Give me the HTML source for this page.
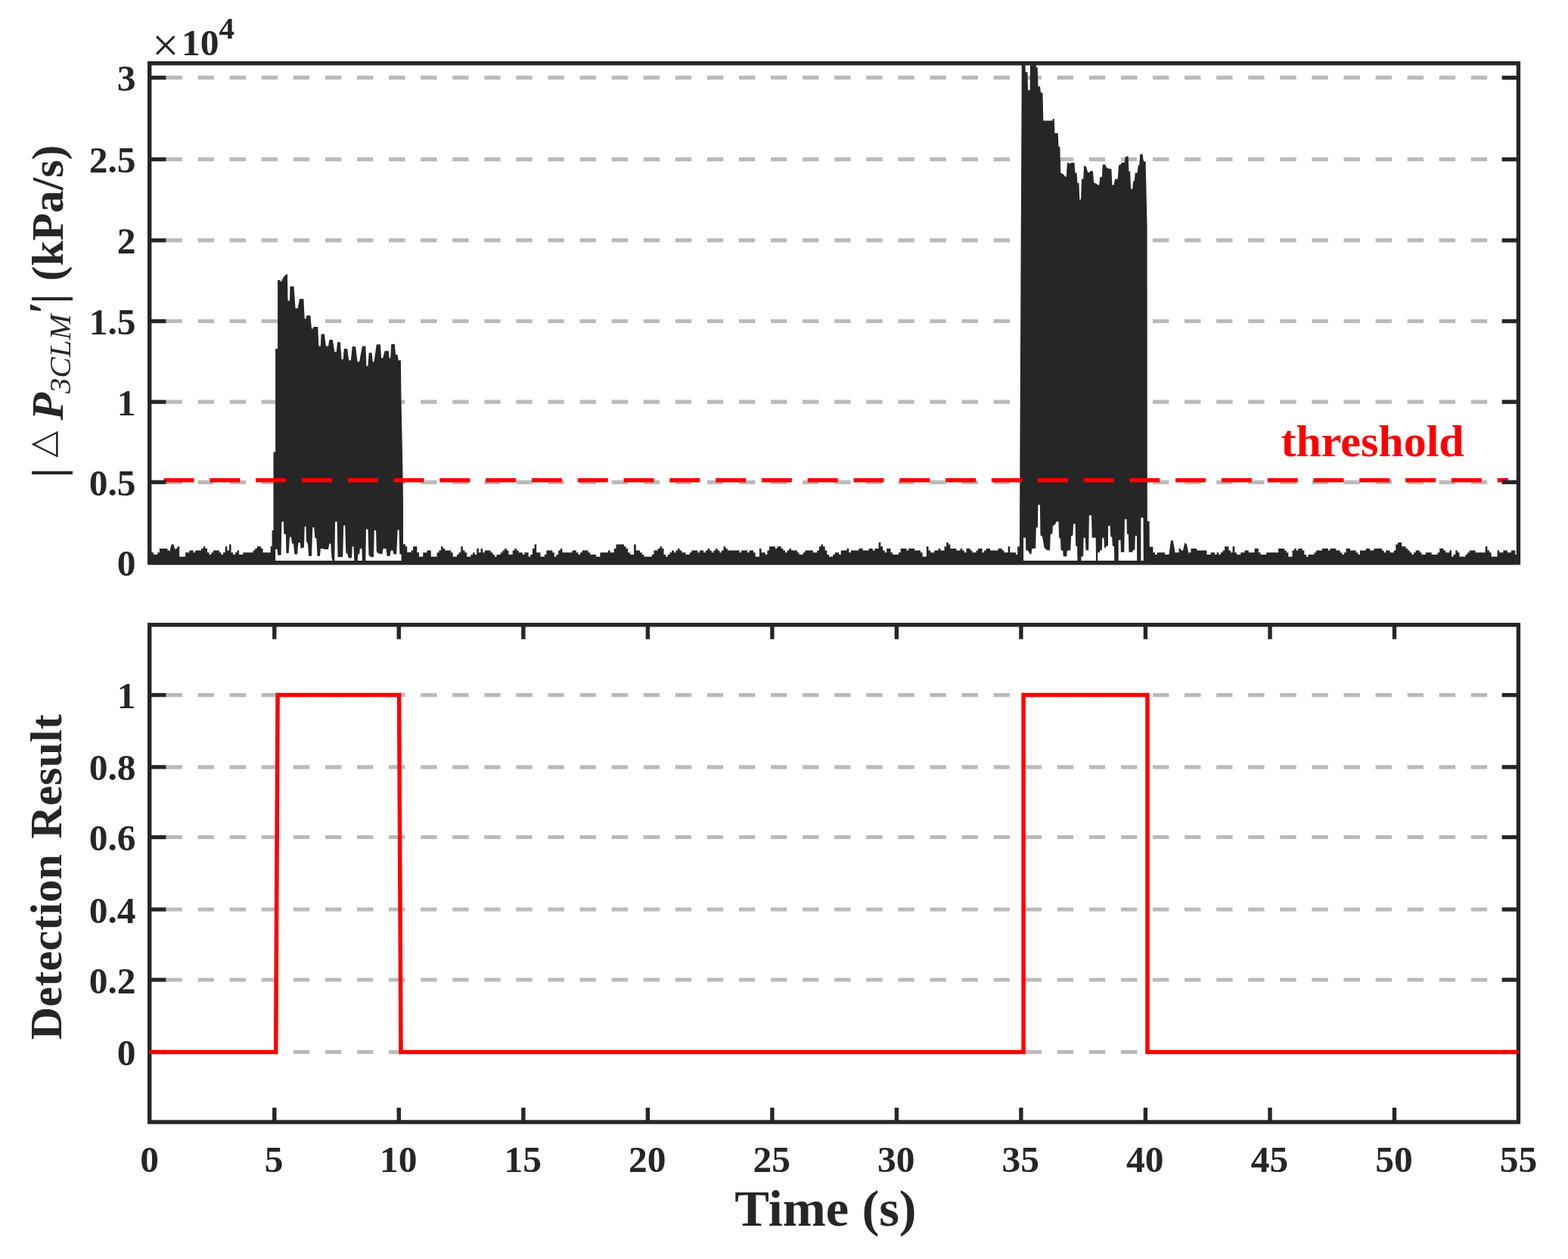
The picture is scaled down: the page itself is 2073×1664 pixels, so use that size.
<!DOCTYPE html>
<html lang="en">
<head>
<meta charset="utf-8">
<title>Detection result</title>
<style>
html,body{margin:0;padding:0;background:#ffffff;overflow:hidden;}
body{width:2073px;height:1664px;overflow:hidden;}
svg{display:block;}
</style>
</head>
<body>
<svg width="2073" height="1664" viewBox="0 0 2073 1664">
<rect x="0" y="0" width="2073" height="1664" fill="#ffffff"/>
<g id="top-plot">
<line x1="197.7" y1="637.3" x2="2007.4" y2="637.3" stroke="#bababa" stroke-width="5.2" stroke-dasharray="21.4 20.68" stroke-dashoffset="20.28"/>
<line x1="197.7" y1="531.2" x2="2007.4" y2="531.2" stroke="#bababa" stroke-width="5.2" stroke-dasharray="21.4 20.68" stroke-dashoffset="20.28"/>
<line x1="197.7" y1="424.5" x2="2007.4" y2="424.5" stroke="#bababa" stroke-width="5.2" stroke-dasharray="21.4 20.68" stroke-dashoffset="20.28"/>
<line x1="197.7" y1="317.7" x2="2007.4" y2="317.7" stroke="#bababa" stroke-width="5.2" stroke-dasharray="21.4 20.68" stroke-dashoffset="20.28"/>
<line x1="197.7" y1="210.6" x2="2007.4" y2="210.6" stroke="#bababa" stroke-width="5.2" stroke-dasharray="21.4 20.68" stroke-dashoffset="20.28"/>
<line x1="197.7" y1="102.7" x2="2007.4" y2="102.7" stroke="#bababa" stroke-width="5.2" stroke-dasharray="21.4 20.68" stroke-dashoffset="20.28"/>
<clipPath id="ctop"><rect x="195.0" y="81.0" width="1815.1000000000001" height="665.4999999999999"/></clipPath>
<g clip-path="url(#ctop)">
<path d="M197.7,746.5 L197.7,727.6 L200.3,727.6 L200.3,730.3 L203.0,730.3 L203.0,733.0 L205.6,733.0 L205.6,733.0 L208.2,733.0 L208.2,730.3 L210.9,730.3 L210.9,725.0 L213.5,725.0 L213.5,725.0 L216.1,725.0 L216.1,725.0 L218.7,725.0 L218.7,725.0 L221.4,725.0 L221.4,727.6 L224.0,727.6 L224.0,730.3 L226.6,719.5 L226.6,719.5 L229.3,719.5 L229.3,719.5 L231.9,727.6 L231.9,725.0 L234.5,725.0 L234.5,722.3 L237.2,722.3 L237.2,735.7 L239.8,735.7 L239.8,735.7 L242.4,735.7 L242.4,735.7 L245.1,735.7 L245.1,730.3 L247.7,730.3 L247.7,730.3 L250.3,730.3 L250.3,727.6 L252.9,727.6 L252.9,727.6 L255.6,727.6 L255.6,730.3 L258.2,730.3 L258.2,727.6 L260.8,727.6 L260.8,727.6 L263.5,727.6 L263.5,727.6 L266.1,727.6 L266.1,725.0 L268.7,725.0 L268.7,722.3 L271.4,722.3 L271.4,725.0 L274.0,725.0 L274.0,730.3 L276.6,730.3 L276.6,733.0 L279.3,733.0 L279.3,730.3 L281.9,730.3 L281.9,727.6 L284.5,727.6 L284.5,727.6 L287.1,727.6 L287.1,727.6 L289.8,727.6 L289.8,730.3 L292.4,730.3 L292.4,733.0 L295.0,733.0 L295.0,730.3 L297.7,730.3 L297.7,722.3 L300.3,722.3 L300.3,727.6 L302.9,727.6 L302.9,719.6 L305.6,719.6 L305.6,730.3 L308.2,730.3 L308.2,733.0 L310.8,733.0 L310.8,730.3 L313.5,730.3 L313.5,727.6 L316.1,727.6 L316.1,733.0 L318.7,733.0 L318.7,733.0 L321.3,733.0 L321.3,730.3 L324.0,730.3 L324.0,730.3 L326.6,730.3 L326.6,730.3 L329.2,730.3 L329.2,730.3 L331.9,730.3 L331.9,730.3 L334.5,730.3 L334.5,727.6 L337.1,727.6 L337.1,725.0 L339.8,725.0 L339.8,722.3 L342.4,722.3 L342.4,722.3 L345.0,722.3 L345.0,725.0 L347.6,725.0 L347.6,730.3 L350.3,730.3 L350.3,730.3 L352.9,730.3 L352.9,730.3 L355.5,730.3 L355.5,730.3 L357.7,730.3 L357.7,722.0 L359.6,722.0 L359.6,701.0 L361.5,701.0 L361.5,597.4 L364.1,597.4 L364.1,461.1 L367.1,461.1 L367.1,370.3 L370.4,370.3 L371.6,372.8 L375.4,365.2 L379.2,362.2 L380.0,362.2 L380.5,397.5 L383.0,397.5 L383.5,378.4 L388.5,378.4 L390.6,407.6 L393.6,407.6 L396.1,395.0 L401.4,395.0 L402.7,421.3 L404.7,421.3 L405.2,417.0 L410.3,417.0 L412.0,434.6 L413.3,434.6 L414.5,432.1 L420.3,432.1 L421.4,457.4 L423.9,457.4 L424.6,441.5 L428.9,441.5 L430.9,457.4 L434.0,457.4 L435.5,449.0 L439.8,449.0 L442.3,464.9 L444.8,464.9 L446.1,452.3 L449.9,452.3 L451.6,475.0 L453.7,475.0 L454.9,461.1 L459.2,461.1 L461.2,476.3 L463.8,476.3 L465.8,458.1 L470.1,458.1 L472.6,478.3 L475.1,478.3 L478.9,457.4 L483.4,457.4 L484.4,483.8 L486.5,483.8 L487.7,466.2 L491.5,466.2 L492.8,478.3 L494.5,478.3 L497.8,455.3 L502.9,455.3 L504.1,473.2 L506.2,473.2 L508.7,463.7 L513.7,463.7 L514.7,473.2 L516.2,473.2 L517.3,454.8 L521.8,454.8 L523.1,468.7 L525.6,468.7 L526.8,476.3 L529.9,476.3 L530.6,532.0 L532.4,620.0 L533.0,660.0 L533.0,719.3 L533.2,719.3 L536.0,719.3 L536.0,722.2 L538.3,722.2 L538.3,730.0 L543.5,730.0 L543.5,727.6 L546.1,727.6 L546.1,722.3 L548.8,722.3 L548.8,722.3 L551.4,722.3 L551.4,730.3 L554.0,730.3 L554.0,735.7 L556.7,735.7 L556.7,735.7 L559.3,735.7 L559.3,730.3 L561.9,730.3 L561.9,730.3 L564.5,730.3 L564.5,727.6 L567.2,727.6 L567.2,727.6 L569.8,727.6 L569.8,735.7 L572.4,735.7 L572.4,735.7 L575.1,735.7 L575.1,735.7 L577.7,735.7 L577.7,730.3 L580.3,730.3 L580.3,727.6 L583.0,727.6 L583.0,722.3 L585.6,722.3 L585.6,725.0 L588.2,725.0 L588.2,727.6 L590.9,727.6 L590.9,727.6 L593.5,727.6 L593.5,727.6 L596.1,727.6 L596.1,730.3 L598.7,730.3 L598.7,735.7 L601.4,735.7 L601.4,735.7 L604.0,735.7 L604.0,733.0 L606.6,733.0 L606.6,730.3 L609.3,730.3 L609.3,722.3 L611.9,722.3 L611.9,727.6 L614.5,727.6 L614.5,730.3 L617.2,730.3 L617.2,735.7 L619.8,735.7 L619.8,735.7 L622.4,735.7 L622.4,733.0 L625.1,733.0 L625.1,730.3 L627.7,730.3 L627.7,733.0 L630.3,733.0 L630.3,725.0 L632.9,725.0 L632.9,730.3 L635.6,730.3 L635.6,725.0 L638.2,725.0 L638.2,730.3 L640.8,730.3 L640.8,727.6 L643.5,727.6 L643.5,727.6 L646.1,727.6 L646.1,727.6 L648.7,727.6 L648.7,730.3 L651.4,730.3 L651.4,733.0 L654.0,733.0 L654.0,735.7 L656.6,735.7 L656.6,733.0 L659.3,733.0 L659.3,733.0 L661.9,733.0 L661.9,730.3 L664.5,730.3 L664.5,727.6 L667.1,727.6 L667.1,725.0 L669.8,725.0 L669.8,727.6 L672.4,727.6 L672.4,733.0 L675.0,733.0 L675.0,733.0 L677.7,733.0 L677.7,727.6 L680.3,727.6 L680.3,725.0 L682.9,725.0 L682.9,727.6 L685.6,727.6 L685.6,730.3 L688.2,730.3 L688.2,730.3 L690.8,730.3 L690.8,733.0 L693.4,733.0 L693.4,730.3 L696.1,730.3 L696.1,730.3 L698.7,730.3 L698.7,735.7 L701.3,735.7 L701.3,733.0 L704.0,733.0 L704.0,725.0 L706.6,725.0 L706.6,719.6 L709.2,719.6 L709.2,730.3 L711.9,730.3 L711.9,730.3 L714.5,730.3 L714.5,735.7 L717.1,735.7 L717.1,735.7 L719.8,735.7 L719.8,733.0 L722.4,733.0 L722.4,727.6 L725.0,727.6 L725.0,727.6 L727.6,727.6 L727.6,727.6 L730.3,727.6 L730.3,730.3 L732.9,730.3 L732.9,735.7 L735.5,735.7 L735.5,733.0 L738.2,733.0 L738.2,727.6 L740.8,727.6 L740.8,725.0 L743.4,725.0 L743.4,730.3 L746.1,730.3 L746.1,730.3 L748.7,730.3 L748.7,730.3 L751.3,730.3 L751.3,730.3 L754.0,730.3 L754.0,730.3 L756.6,730.3 L756.6,727.6 L759.2,727.6 L759.2,727.6 L761.8,727.6 L761.8,730.3 L764.5,730.3 L764.5,733.0 L767.1,733.0 L767.1,730.3 L769.7,730.3 L769.7,727.6 L772.4,727.6 L772.4,727.6 L775.0,727.6 L775.0,727.6 L777.6,727.6 L777.6,730.3 L780.3,730.3 L780.3,733.0 L782.9,733.0 L782.9,733.0 L785.5,733.0 L785.5,733.0 L788.2,733.0 L788.2,735.7 L790.8,735.7 L790.8,735.7 L793.4,735.7 L793.4,730.3 L796.0,730.3 L796.0,730.3 L798.7,730.3 L798.7,730.3 L801.3,730.3 L801.3,730.3 L803.9,730.3 L803.9,727.6 L806.6,727.6 L806.6,730.3 L809.2,730.3 L809.2,730.3 L811.8,730.3 L811.8,725.0 L814.5,725.0 L814.5,719.6 L817.1,719.6 L817.1,719.6 L819.7,719.6 L819.7,719.6 L822.4,719.6 L822.4,719.6 L825.0,719.6 L825.0,722.3 L827.6,722.3 L827.6,725.0 L830.2,725.0 L830.2,730.3 L832.9,730.3 L832.9,733.0 L835.5,733.0 L835.5,733.0 L838.1,733.0 L838.1,719.6 L840.8,719.6 L840.8,727.6 L843.4,727.6 L843.4,727.6 L846.0,727.6 L846.0,730.3 L848.7,730.3 L848.7,733.0 L851.3,733.0 L851.3,735.7 L853.9,735.7 L853.9,735.7 L856.6,735.7 L856.6,735.7 L859.2,735.7 L859.2,735.7 L861.8,735.7 L861.8,733.0 L864.4,733.0 L864.4,727.6 L867.1,727.6 L867.1,727.6 L869.7,727.6 L869.7,725.0 L872.3,725.0 L872.3,722.3 L875.0,722.3 L875.0,725.0 L877.6,725.0 L877.6,733.0 L880.2,733.0 L880.2,735.7 L882.9,735.7 L882.9,733.0 L885.5,733.0 L885.5,730.3 L888.1,730.3 L888.1,727.6 L890.8,727.6 L890.8,730.3 L893.4,730.3 L893.4,727.6 L896.0,727.6 L896.0,725.0 L898.6,725.0 L898.6,727.6 L901.3,727.6 L901.3,730.3 L903.9,730.3 L903.9,730.3 L906.5,730.3 L906.5,733.0 L909.2,733.0 L909.2,733.0 L911.8,733.0 L911.8,730.3 L914.4,730.3 L914.4,727.6 L917.1,727.6 L917.1,727.6 L919.7,727.6 L919.7,727.6 L922.3,727.6 L922.3,730.3 L925.0,730.3 L925.0,727.6 L927.6,727.6 L927.6,727.6 L930.2,727.6 L930.2,730.3 L932.8,730.3 L932.8,727.6 L935.5,727.6 L935.5,725.0 L938.1,725.0 L938.1,727.6 L940.7,727.6 L940.7,730.3 L943.4,730.3 L943.4,727.6 L946.0,727.6 L946.0,725.0 L948.6,725.0 L948.6,727.6 L951.3,727.6 L951.3,730.3 L953.9,730.3 L953.9,727.6 L956.5,727.6 L956.5,722.3 L959.2,722.3 L959.2,725.0 L961.8,725.0 L961.8,727.6 L964.4,727.6 L964.4,727.6 L967.0,727.6 L967.0,727.6 L969.7,727.6 L969.7,727.6 L972.3,727.6 L972.3,727.6 L974.9,727.6 L974.9,727.6 L977.6,727.6 L977.6,730.3 L980.2,730.3 L980.2,727.6 L982.8,727.6 L982.8,727.6 L985.5,727.6 L985.5,727.6 L988.1,727.6 L988.1,730.3 L990.7,730.3 L990.7,727.6 L993.3,727.6 L993.3,727.6 L996.0,727.6 L996.0,730.3 L998.6,730.3 L998.6,735.7 L1001.2,735.7 L1001.2,735.7 L1003.9,735.7 L1003.9,725.0 L1006.5,725.0 L1006.5,730.3 L1009.1,730.3 L1009.1,730.3 L1011.8,730.3 L1011.8,733.0 L1014.4,733.0 L1014.4,727.6 L1017.0,727.6 L1017.0,722.3 L1019.7,722.3 L1019.7,722.3 L1022.3,722.3 L1022.3,722.3 L1024.9,722.3 L1024.9,725.0 L1027.5,725.0 L1027.5,722.3 L1030.2,722.3 L1030.2,722.3 L1032.8,722.3 L1032.8,725.0 L1035.4,725.0 L1035.4,727.6 L1038.1,727.6 L1038.1,730.3 L1040.7,730.3 L1040.7,727.6 L1043.3,727.6 L1043.3,725.0 L1046.0,725.0 L1046.0,727.6 L1048.6,727.6 L1048.6,727.6 L1051.2,727.6 L1051.2,727.6 L1053.9,727.6 L1053.9,730.3 L1056.5,730.3 L1056.5,733.0 L1059.1,733.0 L1059.1,733.0 L1061.7,733.0 L1061.7,730.3 L1064.4,730.3 L1064.4,727.6 L1067.0,727.6 L1067.0,727.6 L1069.6,727.6 L1069.6,727.6 L1072.3,727.6 L1072.3,727.6 L1074.9,727.6 L1074.9,730.3 L1077.5,730.3 L1077.5,730.3 L1080.2,730.3 L1080.2,727.6 L1082.8,727.6 L1082.8,722.3 L1085.4,722.3 L1085.4,719.6 L1088.1,719.6 L1088.1,722.3 L1090.7,722.3 L1090.7,727.6 L1093.3,727.6 L1093.3,733.0 L1095.9,733.0 L1095.9,735.7 L1098.6,735.7 L1098.6,735.7 L1101.2,735.7 L1101.2,733.0 L1103.8,733.0 L1103.8,730.3 L1106.5,730.3 L1106.5,730.3 L1109.1,730.3 L1109.1,733.0 L1111.7,733.0 L1111.7,727.6 L1114.4,727.6 L1114.4,727.6 L1117.0,727.6 L1117.0,727.6 L1119.6,727.6 L1119.6,725.0 L1122.3,725.0 L1122.3,730.3 L1124.9,730.3 L1124.9,727.6 L1127.5,727.6 L1127.5,727.6 L1130.1,727.6 L1130.1,727.6 L1132.8,727.6 L1132.8,727.6 L1135.4,727.6 L1135.4,725.0 L1138.0,725.0 L1138.0,725.0 L1140.7,725.0 L1140.7,727.6 L1143.3,727.6 L1143.3,727.6 L1145.9,727.6 L1145.9,727.6 L1148.6,727.6 L1148.6,725.0 L1151.2,725.0 L1151.2,725.0 L1153.8,725.0 L1153.8,727.6 L1156.5,727.6 L1156.5,725.0 L1159.1,725.0 L1159.1,725.0 L1161.7,725.0 L1161.7,716.9 L1164.3,716.9 L1164.3,722.3 L1167.0,722.3 L1167.0,727.6 L1169.6,727.6 L1169.6,730.3 L1172.2,730.3 L1172.2,725.0 L1174.9,725.0 L1174.9,725.0 L1177.5,725.0 L1177.5,730.3 L1180.1,730.3 L1180.1,733.0 L1182.8,733.0 L1182.8,733.0 L1185.4,733.0 L1185.4,733.0 L1188.0,733.0 L1188.0,730.3 L1190.7,730.3 L1190.7,725.0 L1193.3,725.0 L1193.3,725.0 L1195.9,725.0 L1195.9,725.0 L1198.5,725.0 L1198.5,727.6 L1201.2,727.6 L1201.2,725.0 L1203.8,725.0 L1203.8,725.0 L1206.4,725.0 L1206.4,725.0 L1209.1,725.0 L1209.1,727.6 L1211.7,727.6 L1211.7,727.6 L1214.3,727.6 L1214.3,727.6 L1217.0,727.6 L1217.0,730.3 L1219.6,730.3 L1219.6,735.7 L1222.2,735.7 L1222.2,735.7 L1224.9,735.7 L1224.9,722.3 L1227.5,722.3 L1227.5,727.6 L1230.1,727.6 L1230.1,730.3 L1232.7,730.3 L1232.7,730.3 L1235.4,730.3 L1235.4,727.6 L1238.0,727.6 L1238.0,727.6 L1240.6,727.6 L1240.6,725.0 L1243.3,725.0 L1243.3,727.6 L1245.9,727.6 L1245.9,727.6 L1248.5,727.6 L1248.5,722.3 L1251.2,722.3 L1251.2,716.9 L1253.8,716.9 L1253.8,719.6 L1256.4,719.6 L1256.4,725.0 L1259.1,725.0 L1259.1,725.0 L1261.7,725.0 L1261.7,725.0 L1264.3,725.0 L1264.3,727.6 L1266.9,727.6 L1266.9,727.6 L1269.6,727.6 L1269.6,725.0 L1272.2,725.0 L1272.2,727.6 L1274.8,727.6 L1274.8,730.3 L1277.5,730.3 L1277.5,725.0 L1280.1,725.0 L1280.1,725.0 L1282.7,725.0 L1282.7,727.6 L1285.4,727.6 L1285.4,730.3 L1288.0,730.3 L1288.0,730.3 L1290.6,730.3 L1290.6,727.6 L1293.2,727.6 L1293.2,725.0 L1295.9,725.0 L1295.9,725.0 L1298.5,725.0 L1298.5,730.3 L1301.1,730.3 L1301.1,727.6 L1303.8,727.6 L1303.8,725.0 L1306.4,725.0 L1306.4,725.0 L1309.0,725.0 L1309.0,727.6 L1311.7,727.6 L1311.7,727.6 L1314.3,727.6 L1314.3,727.6 L1316.9,727.6 L1316.9,727.6 L1319.6,727.6 L1319.6,725.0 L1322.2,725.0 L1322.2,725.0 L1324.8,725.0 L1324.8,727.6 L1327.4,727.6 L1327.4,730.3 L1330.1,730.3 L1330.1,730.3 L1332.7,730.3 L1332.7,722.3 L1335.3,722.3 L1335.3,730.3 L1338.0,730.3 L1338.0,730.3 L1340.6,730.3 L1340.6,730.3 L1343.2,730.3 L1343.2,733.0 L1345.2,733.0 L1345.2,722.2 L1348.0,722.2 L1348.4,600.0 L1350.8,86.0 L1355.3,80.1 L1355.8,95.2 L1358.4,95.2 L1359.1,119.2 L1361.6,119.2 L1362.1,80.1 L1369.2,80.1 L1370.0,88.9 L1371.7,88.9 L1372.5,114.2 L1375.0,114.2 L1376.0,122.5 L1378.5,122.5 L1379.3,159.6 L1391.2,159.6 L1391.9,157.1 L1393.7,157.1 L1394.4,176.0 L1398.7,176.0 L1399.5,193.7 L1401.3,193.7 L1402.3,228.5 L1405.8,230.3 L1408.3,233.5 L1409.8,233.5 L1410.9,215.1 L1412.9,215.1 L1413.9,216.9 L1415.9,215.1 L1420.4,215.1 L1421.5,228.5 L1423.5,228.5 L1424.5,242.1 L1426.5,242.1 L1427.3,263.8 L1429.0,263.8 L1430.0,236.6 L1432.3,236.6 L1433.1,218.9 L1436.1,220.2 L1438.1,227.7 L1440.6,227.7 L1441.6,226.0 L1444.9,226.0 L1446.2,241.6 L1450.0,242.9 L1451.2,244.6 L1453.2,244.6 L1454.3,234.0 L1456.8,234.0 L1457.8,217.6 L1461.3,217.6 L1462.6,220.9 L1465.1,222.7 L1469.4,223.4 L1470.4,244.6 L1472.7,244.6 L1473.9,237.1 L1477.7,236.6 L1479.0,218.4 L1481.5,217.6 L1482.8,215.1 L1486.6,215.1 L1487.8,207.5 L1491.6,206.3 L1492.4,226.5 L1494.1,226.5 L1495.1,249.7 L1497.2,249.7 L1498.2,239.6 L1499.7,239.6 L1500.7,228.5 L1503.7,228.5 L1504.7,218.4 L1506.2,218.4 L1507.3,203.8 L1510.5,203.8 L1511.8,212.6 L1513.8,213.8 L1514.6,213.0 L1516.6,300.0 L1516.8,688.7 L1517.0,688.7 L1519.6,688.7 L1519.8,722.8 L1524.4,722.8 L1524.4,730.3 L1527.0,730.3 L1527.0,733.0 L1529.7,733.0 L1529.7,730.3 L1532.3,730.3 L1532.3,730.3 L1534.9,730.3 L1534.9,730.3 L1537.6,730.3 L1537.6,730.3 L1540.2,730.3 L1540.2,733.0 L1542.8,733.0 L1542.8,733.0 L1545.4,733.0 L1545.4,733.0 L1548.1,714.3 L1548.1,714.3 L1550.7,714.3 L1550.7,714.3 L1553.3,727.6 L1553.3,730.3 L1556.0,730.3 L1556.0,730.3 L1558.6,730.3 L1558.6,725.0 L1561.2,725.0 L1561.2,727.6 L1563.9,727.6 L1563.9,727.6 L1566.5,717.0 L1566.5,717.0 L1569.1,720.0 L1569.1,720.0 L1571.8,733.0 L1571.8,730.3 L1574.4,730.3 L1574.4,725.0 L1577.0,725.0 L1577.0,725.0 L1579.6,725.0 L1579.6,725.0 L1582.3,725.0 L1582.3,727.6 L1584.9,727.6 L1584.9,727.6 L1587.5,727.6 L1587.5,727.6 L1590.2,727.6 L1590.2,727.6 L1592.8,727.6 L1592.8,727.6 L1595.4,727.6 L1595.4,733.0 L1598.1,733.0 L1598.1,733.0 L1600.7,733.0 L1600.7,730.3 L1603.3,730.3 L1603.3,730.3 L1606.0,730.3 L1606.0,733.0 L1608.6,733.0 L1608.6,730.3 L1611.2,730.3 L1611.2,733.0 L1613.8,733.0 L1613.8,730.3 L1616.5,730.3 L1616.5,727.6 L1619.1,727.6 L1619.1,722.3 L1621.7,722.3 L1621.7,722.3 L1624.4,722.3 L1624.4,727.6 L1627.0,727.6 L1627.0,730.3 L1629.6,730.3 L1629.6,722.3 L1632.3,722.3 L1632.3,730.3 L1634.9,730.3 L1634.9,733.0 L1637.5,733.0 L1637.5,733.0 L1640.2,733.0 L1640.2,730.3 L1642.8,730.3 L1642.8,730.3 L1645.4,730.3 L1645.4,727.6 L1648.0,727.6 L1648.0,727.6 L1650.7,727.6 L1650.7,730.3 L1653.3,730.3 L1653.3,730.3 L1655.9,730.3 L1655.9,730.3 L1658.6,730.3 L1658.6,725.0 L1661.2,725.0 L1661.2,725.0 L1663.8,725.0 L1663.8,730.3 L1666.5,730.3 L1666.5,733.0 L1669.1,733.0 L1669.1,733.0 L1671.7,733.0 L1671.7,733.0 L1674.3,733.0 L1674.3,730.3 L1677.0,730.3 L1677.0,730.3 L1679.6,730.3 L1679.6,730.3 L1682.2,730.3 L1682.2,730.3 L1684.9,730.3 L1684.9,730.3 L1687.5,730.3 L1687.5,730.3 L1690.1,730.3 L1690.1,725.0 L1692.8,725.0 L1692.8,725.0 L1695.4,725.0 L1695.4,725.0 L1698.0,725.0 L1698.0,727.6 L1700.7,727.6 L1700.7,730.3 L1703.3,730.3 L1703.3,735.7 L1705.9,735.7 L1705.9,735.7 L1708.5,735.7 L1708.5,727.6 L1711.2,727.6 L1711.2,725.0 L1713.8,725.0 L1713.8,727.6 L1716.4,727.6 L1716.4,725.0 L1719.1,725.0 L1719.1,725.0 L1721.7,725.0 L1721.7,727.6 L1724.3,727.6 L1724.3,733.0 L1727.0,733.0 L1727.0,735.7 L1729.6,735.7 L1729.6,733.0 L1732.2,733.0 L1732.2,733.0 L1734.9,733.0 L1734.9,733.0 L1737.5,733.0 L1737.5,730.3 L1740.1,730.3 L1740.1,727.6 L1742.7,727.6 L1742.7,727.6 L1745.4,727.6 L1745.4,727.6 L1748.0,727.6 L1748.0,725.0 L1750.6,725.0 L1750.6,725.0 L1753.3,725.0 L1753.3,725.0 L1755.9,725.0 L1755.9,727.6 L1758.5,727.6 L1758.5,725.0 L1761.2,725.0 L1761.2,725.0 L1763.8,725.0 L1763.8,725.0 L1766.4,725.0 L1766.4,727.6 L1769.1,727.6 L1769.1,727.6 L1771.7,727.6 L1771.7,730.3 L1774.3,730.3 L1774.3,733.0 L1776.9,733.0 L1776.9,730.3 L1779.6,730.3 L1779.6,725.0 L1782.2,725.0 L1782.2,725.0 L1784.8,725.0 L1784.8,727.6 L1787.5,727.6 L1787.5,727.6 L1790.1,727.6 L1790.1,727.6 L1792.7,727.6 L1792.7,730.3 L1795.4,730.3 L1795.4,733.0 L1798.0,733.0 L1798.0,727.6 L1800.6,727.6 L1800.6,727.6 L1803.3,727.6 L1803.3,727.6 L1805.9,727.6 L1805.9,725.0 L1808.5,725.0 L1808.5,725.0 L1811.1,725.0 L1811.1,727.6 L1813.8,727.6 L1813.8,727.6 L1816.4,727.6 L1816.4,725.0 L1819.0,725.0 L1819.0,725.0 L1821.7,725.0 L1821.7,725.0 L1824.3,725.0 L1824.3,725.0 L1826.9,725.0 L1826.9,727.6 L1829.6,727.6 L1829.6,730.3 L1832.2,730.3 L1832.2,727.6 L1834.8,727.6 L1834.8,727.6 L1837.5,727.6 L1837.5,730.3 L1840.1,730.3 L1840.1,730.3 L1842.7,730.3 L1842.7,727.6 L1845.3,727.6 L1845.3,719.6 L1848.0,719.6 L1848.0,716.9 L1850.6,716.9 L1850.6,716.9 L1853.2,716.9 L1853.2,722.3 L1855.9,722.3 L1855.9,722.3 L1858.5,722.3 L1858.5,725.0 L1861.1,725.0 L1861.1,727.6 L1863.8,727.6 L1863.8,730.3 L1866.4,730.3 L1866.4,733.0 L1869.0,733.0 L1869.0,730.3 L1871.7,730.3 L1871.7,727.6 L1874.3,727.6 L1874.3,727.6 L1876.9,727.6 L1876.9,730.3 L1879.5,730.3 L1879.5,733.0 L1882.2,733.0 L1882.2,733.0 L1884.8,733.0 L1884.8,730.3 L1887.4,730.3 L1887.4,730.3 L1890.1,730.3 L1890.1,730.3 L1892.7,730.3 L1892.7,733.0 L1895.3,733.0 L1895.3,733.0 L1898.0,733.0 L1898.0,733.0 L1900.6,733.0 L1900.6,730.3 L1903.2,730.3 L1903.2,725.0 L1905.9,725.0 L1905.9,725.0 L1908.5,725.0 L1908.5,727.6 L1911.1,727.6 L1911.1,730.3 L1913.7,730.3 L1913.7,730.3 L1916.4,730.3 L1916.4,727.6 L1919.0,727.6 L1919.0,735.7 L1921.6,735.7 L1921.6,733.0 L1924.3,733.0 L1924.3,727.6 L1926.9,727.6 L1926.9,730.3 L1929.5,730.3 L1929.5,735.7 L1932.2,735.7 L1932.2,735.7 L1934.8,735.7 L1934.8,735.7 L1937.4,735.7 L1937.4,733.0 L1940.1,733.0 L1940.1,730.3 L1942.7,730.3 L1942.7,727.6 L1945.3,727.6 L1945.3,727.6 L1947.9,727.6 L1947.9,727.6 L1950.6,727.6 L1950.6,730.3 L1953.2,730.3 L1953.2,730.3 L1955.8,730.3 L1955.8,730.3 L1958.5,730.3 L1958.5,730.3 L1961.1,730.3 L1961.1,730.3 L1963.7,730.3 L1963.7,722.3 L1966.4,722.3 L1966.4,727.6 L1969.0,727.6 L1969.0,730.3 L1971.6,730.3 L1971.6,735.7 L1974.2,735.7 L1974.2,735.7 L1976.9,735.7 L1976.9,735.7 L1979.5,735.7 L1979.5,727.6 L1982.1,727.6 L1982.1,730.3 L1984.8,730.3 L1984.8,730.3 L1987.4,730.3 L1987.4,727.6 L1990.0,727.6 L1990.0,727.6 L1992.7,727.6 L1992.7,730.3 L1995.3,730.3 L1995.3,730.3 L1997.9,730.3 L1997.9,727.6 L2000.6,727.6 L2000.6,727.6 L2003.2,727.6 L2003.2,733.0 L2005.8,733.0 L2005.8,730.3 L2007.4,730.3 L2007.4,746.5Z" fill="#262626"/>
<path d="M364.1,741.3 L364.1,726.1 L366.6,726.1 L367.4,733.7 L371.6,733.7 L372.4,689.5 L374.9,689.5 L375.4,705.9 L377.9,705.9 L378.5,731.2 L381.7,731.2 L383.0,709.7 L385.0,709.7 L386.0,718.5 L388.0,718.5 L389.3,732.4 L393.1,732.4 L394.4,717.3 L396.9,717.3 L397.6,724.9 L401.9,723.6 L402.7,695.8 L404.4,695.8 L405.2,716.0 L407.0,718.5 L408.2,735.0 L412.0,735.0 L413.3,697.1 L415.3,697.1 L416.3,711.0 L418.3,711.0 L419.6,735.0 L422.9,735.0 L423.9,724.9 L427.2,724.9 L428.4,726.1 L434.0,726.1 L435.5,718.5 L437.3,718.5 L438.5,737.5 L439.8,741.3 L442.3,741.3 L443.1,689.5 L445.6,689.5 L446.6,736.2 L453.2,736.2 L454.2,694.6 L456.2,694.6 L457.4,731.2 L459.2,731.2 L460.7,737.5 L465.0,737.5 L465.8,722.3 L467.5,722.3 L468.3,741.3 L472.6,741.3 L473.3,732.4 L475.1,732.4 L475.9,724.9 L478.4,724.9 L478.9,741.3 L483.4,741.3 L483.9,699.6 L486.5,699.6 L487.5,733.7 L490.3,736.2 L494.0,736.2 L494.8,700.9 L497.1,700.9 L497.8,728.6 L499.6,731.2 L505.4,732.4 L506.7,724.9 L510.4,724.9 L511.7,735.0 L515.5,735.0 L516.8,727.4 L519.3,727.4 L520.5,732.4 L524.3,732.4 L525.6,700.4 L527.6,700.4 L528.4,732.4 L530.6,732.4 L530.6,741.3Z" fill="#ffffff"/>
<path d="M1353.1,741.1 L1353.1,710.8 L1356.0,710.8 L1356.3,727.2 L1359.1,727.8 L1361.6,732.2 L1363.5,732.2 L1364.2,725.3 L1369.2,724.7 L1369.8,697.5 L1372.0,696.9 L1372.4,667.3 L1374.9,667.3 L1375.5,707.6 L1378.0,708.9 L1380.6,724.0 L1384.4,727.2 L1388.1,727.2 L1388.8,705.7 L1391.3,705.7 L1391.9,695.0 L1394.4,693.8 L1397.0,689.3 L1399.5,689.3 L1400.1,710.8 L1402.0,711.4 L1402.6,727.2 L1405.2,727.8 L1405.8,735.4 L1410.2,735.4 L1410.9,727.8 L1415.3,727.2 L1416.2,708.3 L1418.4,707.6 L1419.1,692.2 L1421.6,692.2 L1422.2,721.5 L1424.1,722.1 L1424.5,741.1Z" fill="#ffffff"/>
<path d="M1429.5,741.1 L1429.5,735.4 L1432.1,735.4 L1432.6,710.8 L1434.8,710.8 L1435.5,727.2 L1439.2,727.2 L1439.9,681.1 L1443.0,681.1 L1443.7,710.8 L1448.7,710.8 L1449.0,741.1Z" fill="#ffffff"/>
<path d="M1451.2,741.1 L1451.2,730.3 L1453.8,730.3 L1454.4,727.2 L1456.9,727.2 L1457.3,710.8 L1459.4,710.8 L1460.1,724.0 L1462.0,724.0 L1462.6,721.5 L1464.9,721.5 L1465.1,695.0 L1467.6,695.0 L1468.3,708.9 L1470.2,710.2 L1470.8,721.5 L1472.9,722.1 L1473.3,741.1Z" fill="#ffffff"/>
<path d="M1478.7,741.1 L1478.7,713.9 L1481.5,713.9 L1481.9,729.7 L1486.3,729.7 L1486.9,686.2 L1489.5,686.2 L1490.0,705.7 L1491.9,706.4 L1492.4,729.7 L1497.3,729.7 L1497.9,727.2 L1500.4,726.6 L1500.8,708.3 L1503.0,708.3 L1503.2,741.1Z" fill="#ffffff"/>
<path d="M1508.4,741.1 L1508.4,684.3 L1511.5,684.3 L1511.8,741.1Z" fill="#ffffff"/>
</g>
<line x1="216.5" y1="634.8" x2="1994" y2="634.8" stroke="#ff0000" stroke-width="5.6" stroke-dasharray="40 20.8"/>
<rect x="197.7" y="83.7" width="1809.7" height="660.0999999999999" fill="none" stroke="#262626" stroke-width="5.4"/>
<line x1="197.7" y1="637.3" x2="219.5" y2="637.3" stroke="#262626" stroke-width="5.3"/>
<line x1="2007.4" y1="637.3" x2="1985.6000000000001" y2="637.3" stroke="#262626" stroke-width="5.3"/>
<line x1="197.7" y1="531.2" x2="219.5" y2="531.2" stroke="#262626" stroke-width="5.3"/>
<line x1="2007.4" y1="531.2" x2="1985.6000000000001" y2="531.2" stroke="#262626" stroke-width="5.3"/>
<line x1="197.7" y1="424.5" x2="219.5" y2="424.5" stroke="#262626" stroke-width="5.3"/>
<line x1="2007.4" y1="424.5" x2="1985.6000000000001" y2="424.5" stroke="#262626" stroke-width="5.3"/>
<line x1="197.7" y1="317.7" x2="219.5" y2="317.7" stroke="#262626" stroke-width="5.3"/>
<line x1="2007.4" y1="317.7" x2="1985.6000000000001" y2="317.7" stroke="#262626" stroke-width="5.3"/>
<line x1="197.7" y1="210.6" x2="219.5" y2="210.6" stroke="#262626" stroke-width="5.3"/>
<line x1="2007.4" y1="210.6" x2="1985.6000000000001" y2="210.6" stroke="#262626" stroke-width="5.3"/>
<line x1="197.7" y1="102.7" x2="219.5" y2="102.7" stroke="#262626" stroke-width="5.3"/>
<line x1="2007.4" y1="102.7" x2="1985.6000000000001" y2="102.7" stroke="#262626" stroke-width="5.3"/>
</g>
<g id="bottom-plot">
<line x1="197.7" y1="1390.5" x2="2007.4" y2="1390.5" stroke="#bababa" stroke-width="5.2" stroke-dasharray="21.4 20.68" stroke-dashoffset="20.28"/>
<line x1="197.7" y1="1295.0" x2="2007.4" y2="1295.0" stroke="#bababa" stroke-width="5.2" stroke-dasharray="21.4 20.68" stroke-dashoffset="20.28"/>
<line x1="197.7" y1="1202.0" x2="2007.4" y2="1202.0" stroke="#bababa" stroke-width="5.2" stroke-dasharray="21.4 20.68" stroke-dashoffset="20.28"/>
<line x1="197.7" y1="1106.5" x2="2007.4" y2="1106.5" stroke="#bababa" stroke-width="5.2" stroke-dasharray="21.4 20.68" stroke-dashoffset="20.28"/>
<line x1="197.7" y1="1013.8" x2="2007.4" y2="1013.8" stroke="#bababa" stroke-width="5.2" stroke-dasharray="21.4 20.68" stroke-dashoffset="20.28"/>
<line x1="197.7" y1="918.6" x2="2007.4" y2="918.6" stroke="#bababa" stroke-width="5.2" stroke-dasharray="21.4 20.68" stroke-dashoffset="20.28"/>
<rect x="197.7" y="825.8" width="1809.7" height="657.2" fill="none" stroke="#262626" stroke-width="5.4"/>
<line x1="197.7" y1="1390.5" x2="219.5" y2="1390.5" stroke="#262626" stroke-width="5.3"/>
<line x1="2007.4" y1="1390.5" x2="1985.6000000000001" y2="1390.5" stroke="#262626" stroke-width="5.3"/>
<line x1="197.7" y1="1295.0" x2="219.5" y2="1295.0" stroke="#262626" stroke-width="5.3"/>
<line x1="2007.4" y1="1295.0" x2="1985.6000000000001" y2="1295.0" stroke="#262626" stroke-width="5.3"/>
<line x1="197.7" y1="1202.0" x2="219.5" y2="1202.0" stroke="#262626" stroke-width="5.3"/>
<line x1="2007.4" y1="1202.0" x2="1985.6000000000001" y2="1202.0" stroke="#262626" stroke-width="5.3"/>
<line x1="197.7" y1="1106.5" x2="219.5" y2="1106.5" stroke="#262626" stroke-width="5.3"/>
<line x1="2007.4" y1="1106.5" x2="1985.6000000000001" y2="1106.5" stroke="#262626" stroke-width="5.3"/>
<line x1="197.7" y1="1013.8" x2="219.5" y2="1013.8" stroke="#262626" stroke-width="5.3"/>
<line x1="2007.4" y1="1013.8" x2="1985.6000000000001" y2="1013.8" stroke="#262626" stroke-width="5.3"/>
<line x1="197.7" y1="918.6" x2="219.5" y2="918.6" stroke="#262626" stroke-width="5.3"/>
<line x1="2007.4" y1="918.6" x2="1985.6000000000001" y2="918.6" stroke="#262626" stroke-width="5.3"/>
<line x1="362.8" y1="1483.0" x2="362.8" y2="1464.0" stroke="#262626" stroke-width="5.4"/>
<line x1="362.8" y1="825.8" x2="362.8" y2="844.8" stroke="#262626" stroke-width="5.4"/>
<line x1="527.3" y1="1483.0" x2="527.3" y2="1464.0" stroke="#262626" stroke-width="5.4"/>
<line x1="527.3" y1="825.8" x2="527.3" y2="844.8" stroke="#262626" stroke-width="5.4"/>
<line x1="691.9" y1="1483.0" x2="691.9" y2="1464.0" stroke="#262626" stroke-width="5.4"/>
<line x1="691.9" y1="825.8" x2="691.9" y2="844.8" stroke="#262626" stroke-width="5.4"/>
<line x1="856.4" y1="1483.0" x2="856.4" y2="1464.0" stroke="#262626" stroke-width="5.4"/>
<line x1="856.4" y1="825.8" x2="856.4" y2="844.8" stroke="#262626" stroke-width="5.4"/>
<line x1="1020.9" y1="1483.0" x2="1020.9" y2="1464.0" stroke="#262626" stroke-width="5.4"/>
<line x1="1020.9" y1="825.8" x2="1020.9" y2="844.8" stroke="#262626" stroke-width="5.4"/>
<line x1="1185.4" y1="1483.0" x2="1185.4" y2="1464.0" stroke="#262626" stroke-width="5.4"/>
<line x1="1185.4" y1="825.8" x2="1185.4" y2="844.8" stroke="#262626" stroke-width="5.4"/>
<line x1="1349.9" y1="1483.0" x2="1349.9" y2="1464.0" stroke="#262626" stroke-width="5.4"/>
<line x1="1349.9" y1="825.8" x2="1349.9" y2="844.8" stroke="#262626" stroke-width="5.4"/>
<line x1="1514.4" y1="1483.0" x2="1514.4" y2="1464.0" stroke="#262626" stroke-width="5.4"/>
<line x1="1514.4" y1="825.8" x2="1514.4" y2="844.8" stroke="#262626" stroke-width="5.4"/>
<line x1="1679.0" y1="1483.0" x2="1679.0" y2="1464.0" stroke="#262626" stroke-width="5.4"/>
<line x1="1679.0" y1="825.8" x2="1679.0" y2="844.8" stroke="#262626" stroke-width="5.4"/>
<line x1="1843.5" y1="1483.0" x2="1843.5" y2="1464.0" stroke="#262626" stroke-width="5.4"/>
<line x1="1843.5" y1="825.8" x2="1843.5" y2="844.8" stroke="#262626" stroke-width="5.4"/>
<path d="M197.7,1390.5 L364.7,1390.5 L367.1,918.6 L527.6,918.6 L530.0,1390.5 L1353.1,1390.5 L1353.1,918.6 L1517.0,918.6 L1517.0,1390.5 L2007.4,1390.5" fill="none" stroke="#ff0000" stroke-width="5.5" stroke-linejoin="miter"/>
</g>
<g id="labels" font-family="'Liberation Serif', 'DejaVu Serif', serif" font-weight="bold" fill="#262626">
<text x="179.6" y="761.4" font-size="49.5" text-anchor="end">0</text>
<text x="179.6" y="654.9" font-size="49.5" text-anchor="end">0.5</text>
<text x="179.6" y="548.8" font-size="49.5" text-anchor="end">1</text>
<text x="179.6" y="442.1" font-size="49.5" text-anchor="end">1.5</text>
<text x="179.6" y="335.3" font-size="49.5" text-anchor="end">2</text>
<text x="179.6" y="228.2" font-size="49.5" text-anchor="end">2.5</text>
<text x="179.6" y="120.3" font-size="49.5" text-anchor="end">3</text>
<text x="179.6" y="1408.1" font-size="49.5" text-anchor="end">0</text>
<text x="179.6" y="1312.6" font-size="49.5" text-anchor="end">0.2</text>
<text x="179.6" y="1219.6" font-size="49.5" text-anchor="end">0.4</text>
<text x="179.6" y="1124.1" font-size="49.5" text-anchor="end">0.6</text>
<text x="179.6" y="1031.4" font-size="49.5" text-anchor="end">0.8</text>
<text x="179.6" y="936.2" font-size="49.5" text-anchor="end">1</text>
<text x="197.7" y="1549.3" font-size="49.5" text-anchor="middle">0</text>
<text x="362.2" y="1549.3" font-size="49.5" text-anchor="middle">5</text>
<text x="526.7" y="1549.3" font-size="49.5" text-anchor="middle">10</text>
<text x="691.3" y="1549.3" font-size="49.5" text-anchor="middle">15</text>
<text x="855.8" y="1549.3" font-size="49.5" text-anchor="middle">20</text>
<text x="1020.3" y="1549.3" font-size="49.5" text-anchor="middle">25</text>
<text x="1184.8" y="1549.3" font-size="49.5" text-anchor="middle">30</text>
<text x="1349.3" y="1549.3" font-size="49.5" text-anchor="middle">35</text>
<text x="1513.8" y="1549.3" font-size="49.5" text-anchor="middle">40</text>
<text x="1678.4" y="1549.3" font-size="49.5" text-anchor="middle">45</text>
<text x="1842.9" y="1549.3" font-size="49.5" text-anchor="middle">50</text>
<text x="2007.4" y="1549.3" font-size="49.5" text-anchor="middle">55</text>
<text x="201" y="81" font-size="63" font-weight="normal">×</text>
<text x="240" y="73" font-size="49.5">10<tspan dy="-22" dx="0" font-size="41">4</tspan></text>
<text x="1091.5" y="1619.7" font-size="68.5" text-anchor="middle">Time (s)</text>
<text x="1814.6" y="602.6" font-size="60" text-anchor="middle" fill="#ff0000">threshold</text>
<text transform="translate(81.2,1159) rotate(-90)" font-size="60" text-anchor="middle" letter-spacing="0.25" word-spacing="5">Detection Result</text>
<text transform="translate(82.6,0) rotate(-90)" font-size="60"><tspan x="-631.5" y="0">|</tspan><tspan x="-605" y="-11.3" font-weight="normal" font-size="46">△</tspan><tspan x="-555.5" y="0" font-style="italic">P</tspan><tspan x="-520" y="10.8" font-style="italic" font-weight="normal" font-size="41">3CLM</tspan><tspan x="-415" y="-3.5">′</tspan><tspan x="-401.5" y="0">|</tspan><tspan x="-371.5" y="0">(kPa/s)</tspan></text>
</g>
</svg>
</body>
</html>
